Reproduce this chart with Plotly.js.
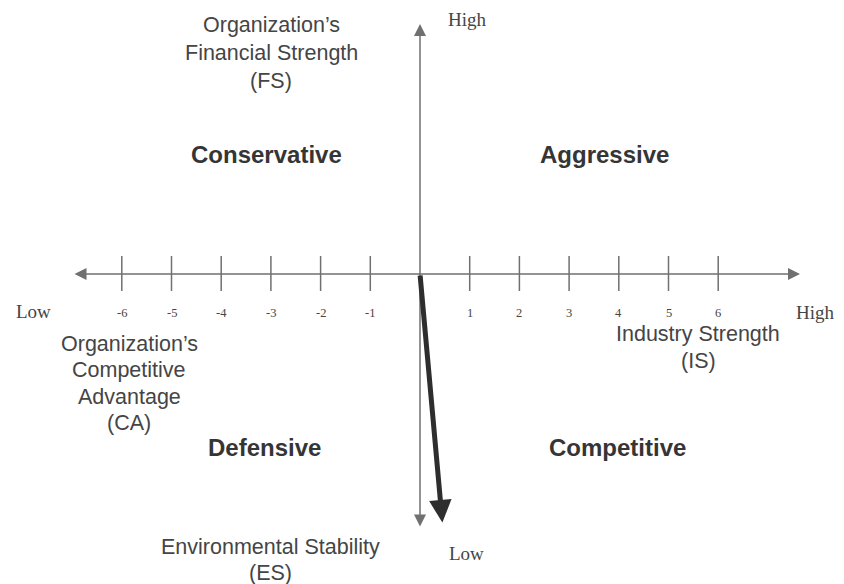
<!DOCTYPE html>
<html>
<head>
<meta charset="utf-8">
<script src="https://cdn.plot.ly/plotly-3.0.1.min.js"></script>
<style>html,body{margin:0;padding:0;background:#fff;}#chart{width:844px;height:584px;}</style>
</head>
<body>
<div id="chart"></div>
<script>
// ---- data ----
const tickValues = [-6, -5, -4, -3, -2, -1, 1, 2, 3, 4, 5, 6];
const tickLabels = ['-6', '-5', '-4', '-3', '-2', '-1', '1', '2', '3', '4', '5', '6'];
const quadrantNames = ['Conservative', 'Aggressive', 'Defensive', 'Competitive'];
const directionalVector = {x: 0.45, y: -5.0};   // (CA+IS, FS+ES)
const nameTop = ['Organization\u2019s', 'Financial Strength', '(FS)'];
const nameLeft = ['Organization\u2019s', 'Competitive', 'Advantage', '(CA)'];
const nameRight = ['Industry Strength', '(IS)'];
const nameBottom = ['Environmental Stability', '(ES)'];
const endLabels = {high: 'High', low: 'Low'};

// ---- layout helpers (pixel -> data) ----
const W = 844, H = 584, OX = 420, OY = 274, S = 49.7;
const px = p => (p - OX) / S;
const py = p => (OY - p) / S;

const axisColor = '#707070';
const textColor = '#454545';
const sans = 'Liberation Sans, Arial, sans-serif';
const serif = 'Liberation Serif, Times New Roman, serif';

const shapes = tickValues.map(v => ({
  type: 'line', xref: 'x', yref: 'y',
  x0: v, x1: v, y0: py(256), y1: py(291),
  line: {color: axisColor, width: 1.5}
}));

const ann = [];
// axes with arrowheads at both ends
ann.push({x: px(800), y: 0, ax: px(73), ay: 0, xref: 'x', yref: 'y', axref: 'x', ayref: 'y',
  text: '', showarrow: true, arrowside: 'end+start', arrowhead: 2, arrowsize: 1.6, arrowwidth: 1.5, arrowcolor: axisColor});
ann.push({x: 0, y: py(24), ax: 0, ay: py(528), xref: 'x', yref: 'y', axref: 'x', ayref: 'y',
  text: '', showarrow: true, arrowside: 'end+start', arrowhead: 2, arrowsize: 1.6, arrowwidth: 1.5, arrowcolor: axisColor});
// directional vector
ann.push({x: directionalVector.x, y: directionalVector.y, ax: 0, ay: 0, xref: 'x', yref: 'y', axref: 'x', ayref: 'y',
  text: '', showarrow: true, arrowhead: 2, arrowsize: 0.9, arrowwidth: 5, arrowcolor: '#2e2e2e'});

// tick labels
tickValues.forEach((v, i) => ann.push({x: v, y: py(313), xref: 'x', yref: 'y', text: tickLabels[i],
  showarrow: false, font: {family: serif, size: 12.5, color: textColor}}));

// end labels
const endFont = {family: serif, size: 19, color: textColor};
ann.push({x: px(467), y: py(19), text: endLabels.high, showarrow: false, font: endFont});
ann.push({x: px(466), y: py(553), text: endLabels.low, showarrow: false, font: endFont});
ann.push({x: px(33), y: py(311), text: endLabels.low, showarrow: false, font: endFont});
ann.push({x: px(794), y: py(312), text: endLabels.high, xanchor: 'left', showarrow: false, font: endFont});

// axis names, one annotation per line
const nameFont = {family: sans, size: 21.5, color: textColor};
function block(lines, cx, y0, step) {
  lines.forEach((t, i) => ann.push({x: px(cx), y: py(y0 + i * step), text: t, showarrow: false, font: nameFont}));
}
block(nameTop, 271, 25, 28);
block(nameLeft, 129, 344, 26.3);
block(nameRight, 698, 334, 27);
block(nameBottom, 270, 547, 26);

// quadrant names
const qPos = [[266, 154], [604, 154], [264, 447], [617, 447]];
quadrantNames.forEach((q, i) => ann.push({x: px(qPos[i][0]), y: py(qPos[i][1]), text: '<b>' + q + '</b>',
  showarrow: false, font: {family: sans, size: 24, color: '#353535'}}));

ann.forEach(a => { if (!a.xref) { a.xref = 'x'; a.yref = 'y'; } });

const layout = {
  width: W, height: H,
  margin: {l: 0, r: 0, t: 0, b: 0},
  paper_bgcolor: '#ffffff', plot_bgcolor: '#ffffff',
  xaxis: {range: [px(0), px(W)], visible: false, fixedrange: true},
  yaxis: {range: [py(H), py(0)], visible: false, fixedrange: true},
  showlegend: false,
  shapes: shapes,
  annotations: ann
};

Plotly.newPlot('chart', [{x: [], y: [], type: 'scatter', mode: 'markers', hoverinfo: 'skip'}], layout,
  {staticPlot: true, displayModeBar: false});
</script>
</body>
</html>
